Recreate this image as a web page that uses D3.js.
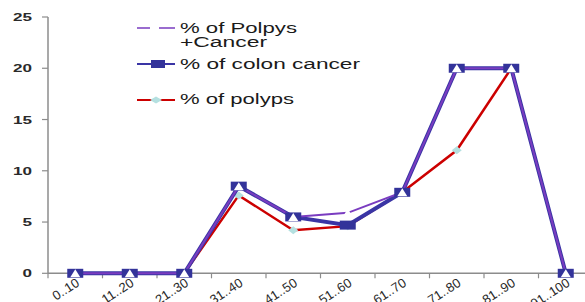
<!DOCTYPE html>
<html><head><meta charset="utf-8">
<script src="https://cdn.jsdelivr.net/npm/d3@7/dist/d3.min.js"></script>
<style>body{margin:0;background:#fff;}svg{display:block;font-family:Arial,"Liberation Sans",sans-serif;}</style>
</head><body>
<script>
const categories = ["0..10","11..20","21..30","31..40","41..50","51..60","61..70","71..80","81..90","91..100"];
const polypsCancer = [0,0,0,8.5,5.5,5.9,7.9,20,20,0];
const colonCancer = [0,0,0,8.5,5.5,4.7,7.9,20,20,0];
const polyps = [0,0,0,7.6,4.2,4.6,7.9,12,20,0];
const yTicks = [0,5,10,15,20,25];
const legendLabels = [["% of Polpys","+Cancer"],["% of colon cancer"],["% of polyps"]];

const W=585,H=302;
const svg=d3.select("body").append("svg").attr("width",W).attr("height",H);
const x=d3.scaleBand().domain(categories).range([48,593]).padding(0);
const y=d3.scaleLinear().domain([0,25]).range([273.3,17]);
const cx=c=>x(c)+x.bandwidth()/2;

// y axis
svg.append("line").attr("x1",48).attr("x2",48).attr("y1",y(25)).attr("y2",y(0)).attr("stroke","#8c8c8c").attr("stroke-width",1.5);
svg.selectAll(".yt").data(yTicks).join("line").attr("x1",42).attr("x2",48).attr("y1",d=>y(d)).attr("y2",d=>y(d)).attr("stroke","#8c8c8c").attr("stroke-width",1.2);
svg.selectAll(".yl").data(yTicks).join("text").attr("x",32).attr("y",d=>y(d)+4).attr("text-anchor","end")
  .attr("font-size",11).attr("font-weight","bold").attr("fill","#2a2a2a")
  .attr("textLength",d=>String(d).length*9.5).attr("lengthAdjust","spacingAndGlyphs").text(d=>d);

// x axis
svg.append("line").attr("x1",48).attr("x2",W).attr("y1",y(0)).attr("y2",y(0)).attr("stroke","#8c8c8c").attr("stroke-width",1.5);
svg.selectAll(".xt").data(categories).join("line").attr("x1",d=>x(d)).attr("x2",d=>x(d)).attr("y1",y(0)).attr("y2",y(0)+5).attr("stroke","#8c8c8c").attr("stroke-width",1.2);
svg.selectAll(".xl").data(categories).join("text")
  .attr("transform",d=>`translate(${cx(d)+5},${285}) rotate(-33)`)
  .attr("text-anchor","end").attr("font-size",13).attr("fill","#2a2a2a").text(d=>d);

const line=d3.line().x((d,i)=>cx(categories[i])).y(d=>y(d));

// polyps (red)
svg.append("path").datum(polyps).attr("d",line).attr("fill","none").attr("stroke","#cc0000").attr("stroke-width",2.5);
svg.selectAll(".pd").data(polyps).join("path")
  .attr("d","M0,-4L5,0L0,4L-5,0Z")
  .attr("transform",(d,i)=>`translate(${cx(categories[i])},${y(d)})`).attr("fill","#b4e0e0");

// colon cancer (blue)
svg.append("path").datum(colonCancer).attr("d",line).attr("fill","none").attr("stroke","#3a35a5").attr("stroke-width",4);
// polyps+cancer (purple)
svg.append("path").datum(polypsCancer).attr("d",line).attr("fill","none").attr("stroke","#7a3cc0").attr("stroke-width",2);
svg.selectAll(".cs").data(colonCancer).join("rect")
  .attr("x",(d,i)=>cx(categories[i])-8).attr("y",d=>y(d)-4.5).attr("width",16).attr("height",9).attr("fill","#33339a");
svg.selectAll(".pt").data(polypsCancer).join("path")
  .attr("d","M0,-4L5,4L-5,4Z")
  .attr("transform",(d,i)=>`translate(${cx(categories[i])},${y(d)})`).attr("fill","#ffffff");

// legend
const lg=svg.append("g");
lg.append("line").attr("x1",137).attr("x2",175).attr("y1",28).attr("y2",28).attr("stroke","#7a3cc0").attr("stroke-width",1.5).attr("stroke-dasharray","13,9,16");
lg.append("line").attr("x1",137).attr("x2",175).attr("y1",64).attr("y2",64).attr("stroke","#3a35a5").attr("stroke-width",2);
lg.append("rect").attr("x",151).attr("y",60).attr("width",14).attr("height",8).attr("fill","#33339a");
lg.append("line").attr("x1",137).attr("x2",175).attr("y1",100).attr("y2",100).attr("stroke","#cc0000").attr("stroke-width",2);
lg.append("path").attr("d","M0,-3.5L6,0L0,3.5L-6,0Z").attr("transform","translate(156,100)").attr("fill","#b4e0e0");
const lt=[{t:legendLabels[0][0],y:33,w:117},{t:legendLabels[0][1],y:47,w:87},{t:legendLabels[1][0],y:69,w:180},{t:legendLabels[2][0],y:104,w:114}];
lg.selectAll("text").data(lt).join("text").attr("x",180).attr("y",d=>d.y).attr("font-size",14).attr("fill","#1a1a1a")
  .attr("textLength",d=>d.w).attr("lengthAdjust","spacingAndGlyphs").text(d=>d.t);
</script>
</body></html>
